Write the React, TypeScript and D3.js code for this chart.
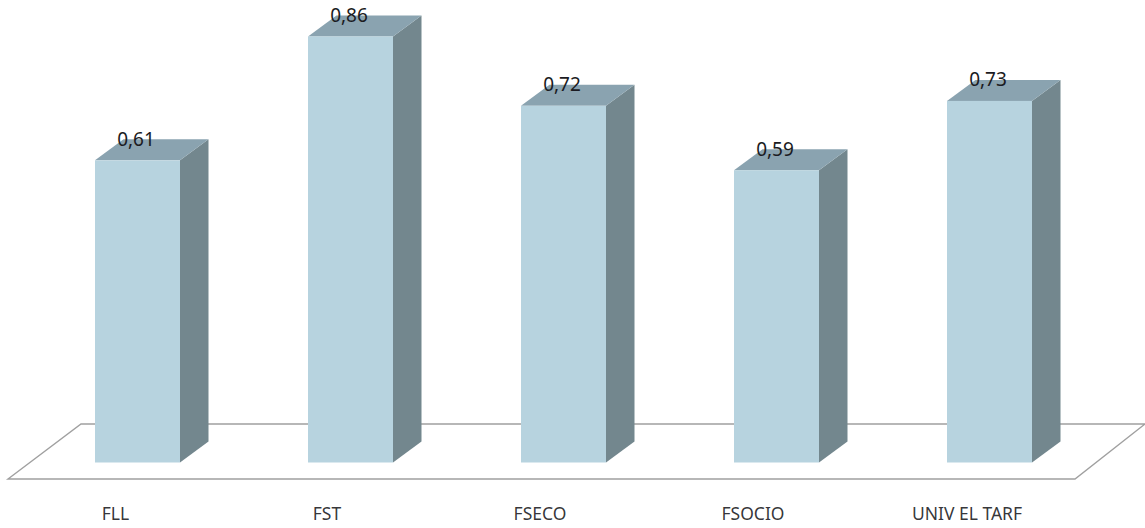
import React from "react";
import * as d3 from "d3";

const categories = ["FLL", "FST", "FSECO", "FSOCIO", "UNIV EL TARF"];
const values = [0.61, 0.86, 0.72, 0.59, 0.73];
const valueLabels = ["0,61", "0,86", "0,72", "0,59", "0,73"];

const W = 1145;
const H = 528;
const baseY = 462.5;
const DX = 28.5;
const DY = -21;
const FONT = "'Noto Sans', 'Open Sans', sans-serif";

export default function App() {
  const step = 213;
  const bw = 85;
  const xPos = d3.scaleLinear().domain([0, 1]).range([95, 95 + step]);
  const y = d3.scaleLinear().domain([0, 0.86]).range([baseY, 36.5]);
  const poly = d3.line();
  return (
    <svg width={W} height={H} viewBox={`0 0 ${W} ${H}`} style={{ position: "fixed", left: 0, top: 0, background: "#fff" }}>
      <defs>
        <filter id="soft" x="-5%" y="-5%" width="110%" height="110%">
          <feGaussianBlur stdDeviation="0.45" />
        </filter>
      </defs>
      <g filter="url(#soft)">
        <path
          d={poly([[8, 479], [81, 424], [1145, 424], [1075, 479]])! + "Z"}
          fill="#fff"
          stroke="#a0a0a0"
          strokeWidth={1.4}
        />
        {categories.map((c, i) => {
          const x0 = xPos(i);
          const x1 = x0 + bw;
          const top = y(values[i]);
          return (
            <g key={c}>
              <path d={poly([[x1, top], [x1 + DX, top + DY], [x1 + DX, baseY + DY], [x1, baseY]])! + "Z"} fill="#73878e" />
              <path d={poly([[x0, top], [x0 + DX, top + DY], [x1 + DX, top + DY], [x1, top]])! + "Z"} fill="#8aa3b0" />
              <rect x={x0} y={top} width={bw} height={baseY - top} fill="#b7d3df" />
            </g>
          );
        })}
      </g>
      {categories.map((c, i) => (
        <g key={c} fontFamily={FONT} fill="#1b1b22">
          <text x={xPos(i) + (i === 0 ? 20.5 : i === 4 ? 20 : 19)} y={520} fontSize={17.5} textAnchor="middle" fillOpacity={0.9}>
            {c}
          </text>
          <text x={xPos(i) + 41} y={y(values[i]) + DY + 6.5} fontSize={19} textAnchor="middle">
            {valueLabels[i]}
          </text>
        </g>
      ))}
    </svg>
  );
}
